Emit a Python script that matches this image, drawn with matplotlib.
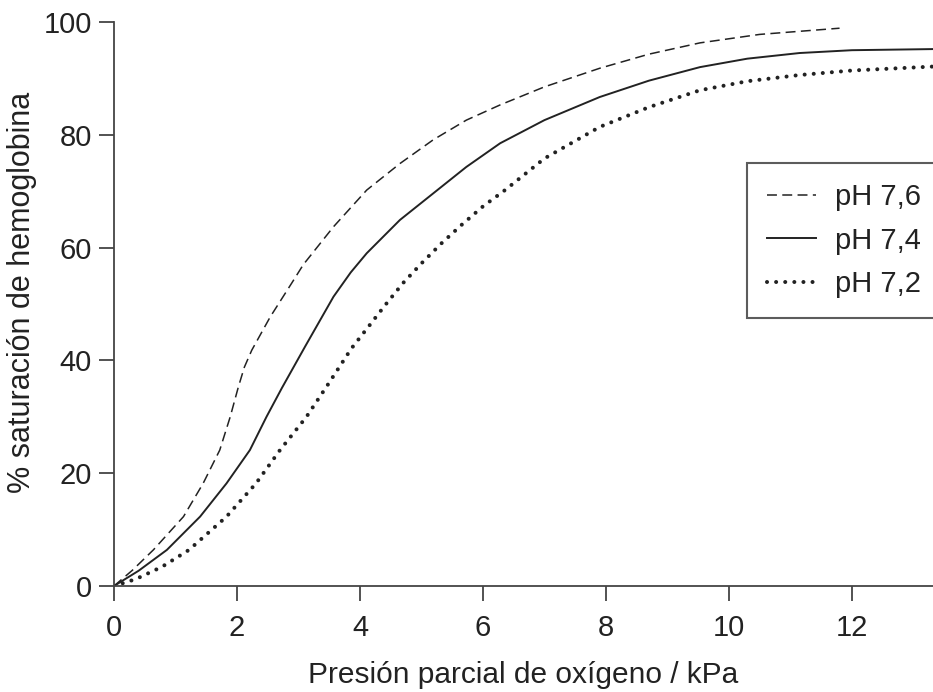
import matplotlib
matplotlib.use("Agg")
import matplotlib.pyplot as plt

plt.rcParams['font.family'] = ['Liberation Sans', 'DejaVu Sans']

# valores (kPa, % saturación)
ph76_x = [0, 0.3, 0.64, 1.13, 1.45, 1.72, 1.89, 2.02, 2.12, 2.24, 2.54, 2.89, 3.08, 3.57,
          4.11, 4.65, 5.19, 5.73, 6.28, 7.0, 7.9, 8.7, 9.53, 10.5, 11.8]
ph76_y = [0, 2.8, 6.4, 12.3, 18.2, 24.1, 30, 35.2, 38.8, 41.8, 47.7, 53.7, 57.0, 63.7,
          70.2, 74.9, 79.1, 82.6, 85.3, 88.5, 91.8, 94.3, 96.3, 97.8, 98.9]

ph74_x = [0, 0.4, 0.86, 1.40, 1.83, 2.21, 2.48, 2.73, 3.11, 3.57, 3.85, 4.11, 4.65, 5.19,
          5.73, 6.28, 7.0, 7.9, 8.7, 9.53, 10.3, 11.15, 12.0, 13.32]
ph74_y = [0, 2.7, 6.4, 12.3, 18.2, 24.1, 30, 35.1, 42.5, 51.3, 55.6, 59.0, 64.9, 69.6,
          74.3, 78.5, 82.6, 86.7, 89.6, 92, 93.5, 94.5, 95, 95.2]

ph72_x = [0, 0.35, 0.78, 1.22, 1.83, 2.31, 2.70, 3.13, 3.49, 3.86, 4.14, 4.41, 4.70,
          5.0, 5.33, 5.65, 6.0, 6.36, 7.0, 7.9, 8.7, 9.53, 10.3, 11.15, 12.0, 13.32]
ph72_y = [0, 1.2, 3.4, 6.4, 12.3, 18.2, 24.1, 30, 35.9, 42.1, 46.0, 49.8, 53.7,
          57.2, 60.8, 64.0, 67.3, 70.2, 75.8, 81.4, 84.9, 87.9, 89.5, 90.6, 91.4, 92.1]

labels = ['pH 7,6', 'pH 7,4', 'pH 7,2']
ink = '#222222'

fig = plt.figure(figsize=(9.33, 6.92), dpi=100)
ax = fig.add_axes([0.1222, 0.1532, 0.8778, 0.815])

ax.plot(ph76_x, ph76_y, color=ink, lw=1.1, linestyle=(0, (6.5, 3.5)), label=labels[0])
ax.plot(ph74_x, ph74_y, color=ink, lw=1.4, label=labels[1])
ax.plot(ph72_x, ph72_y, color=ink, lw=2.9, linestyle=(0, (0.01, 2.25)),
        dash_capstyle='round', label=labels[2])

ax.set_xlim(0, 13.32)
ax.set_ylim(0, 100)
ax.set_xticks(range(0, 13, 2))
ax.set_yticks(range(0, 101, 20))

for s in ['top', 'right']:
    ax.spines[s].set_visible(False)
for s in ['left', 'bottom']:
    ax.spines[s].set_color('#444444')
    ax.spines[s].set_linewidth(1.3)

ax.tick_params(direction='out', length=11, width=1.3, color='#444444',
               labelsize=21, labelcolor=ink, pad=5)
ax.tick_params(axis='x', pad=9)

ax.set_xlabel('Presión parcial de oxígeno / kPa', fontsize=21.5, color=ink, labelpad=14)
ax.set_ylabel('% saturación de hemoglobina', fontsize=22, color=ink)
ax.yaxis.set_label_coords(-0.094, 0.521)

leg = ax.legend(loc='upper right', bbox_to_anchor=(1.01, 0.75), fontsize=21,
                frameon=True, fancybox=False, handlelength=1.67, handletextpad=0.65,
                labelspacing=0.52, borderpad=0.7, borderaxespad=0)
leg.get_frame().set_edgecolor('#333333')
leg.get_frame().set_linewidth(1.5)
for t in leg.get_texts():
    t.set_color(ink)

fig.savefig('out.png', dpi=100)
